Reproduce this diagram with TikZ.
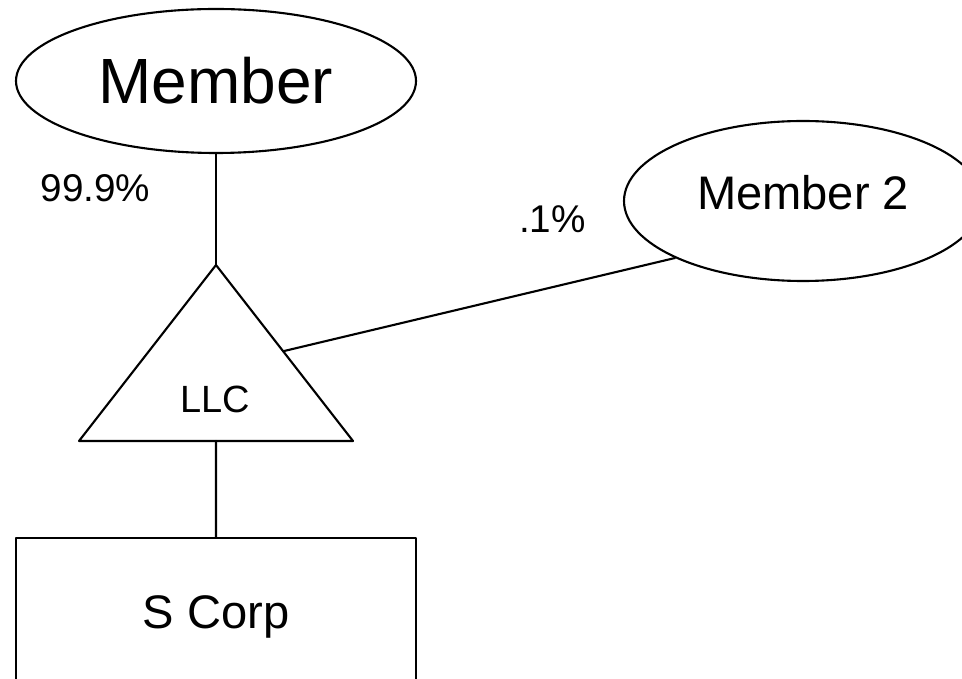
\documentclass[tikz,border=0pt]{standalone}
\usepackage{fontspec}
\setmainfont{Liberation Sans}
\usetikzlibrary{shapes.geometric,calc}
\begin{document}
\begin{tikzpicture}[line join=round, line cap=round, line width=0.6pt,
    owner/.style={draw,ellipse,inner sep=0pt},
    pct/.style={anchor=base,font=\fontsize{11}{13}\selectfont}]
    \useasboundingbox (0,0) rectangle (9.62,-6.79);
    \node[owner,minimum width=4cm,minimum height=1.44cm,font=\fontsize{18.2}{22}\selectfont](member) at (2.16,-0.81){Member};
    \node[owner,minimum width=3.58cm,minimum height=1.6cm,text depth=0.18cm,font=\fontsize{13.4}{16}\selectfont](member2) at (8.03,-2.01){Member 2};
    \node[draw,minimum width=4cm,minimum height=1.58cm,anchor=north,font=\fontsize{13.4}{16}\selectfont](scorp) at (2.16,-5.37){S Corp};
    \coordinate (apex) at (2.16,-2.65);
    \coordinate (bl) at (0.79,-4.41);
    \coordinate (br) at (3.53,-4.41);
    \draw (apex)--(bl)--(br)--cycle;
    \node[anchor=base,font=\fontsize{10.8}{13}\selectfont](llc) at (2.155,-4.12){LLC};
    \draw (member.south)--(apex);
    \draw ($(bl)!.5!(br)$)--(scorp.north);
    \draw (member2.204)--($(apex)!.49!(br)$);
    \node[pct](share1) at (0.955,-2.02){99.9\%};
    \node[pct](share2) at (5.525,-2.33){.1\%};
\end{tikzpicture}
\end{document}
